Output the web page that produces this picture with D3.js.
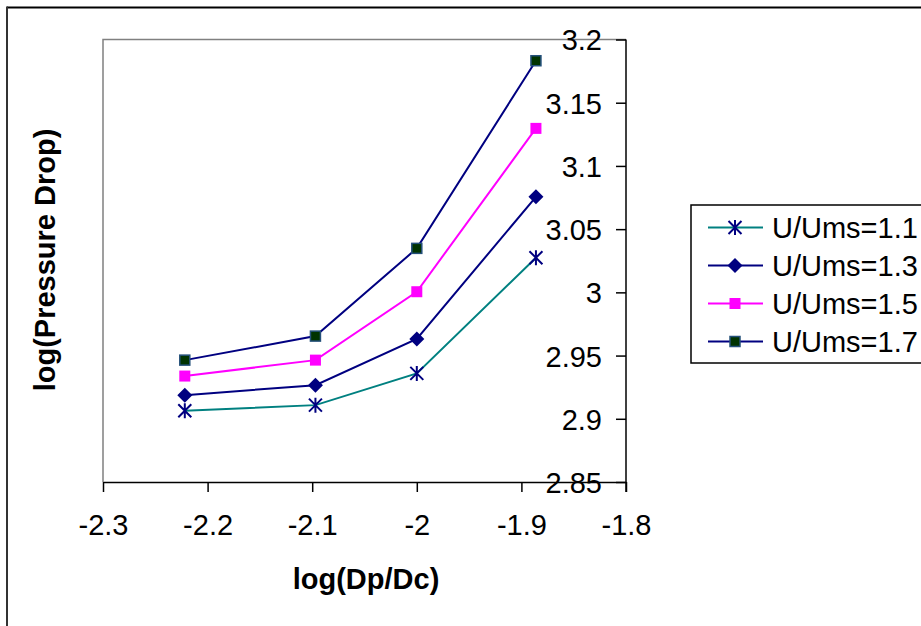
<!DOCTYPE html>
<html><head><meta charset="utf-8">
<script src="https://cdn.jsdelivr.net/npm/d3@7"></script>
<style>body{margin:0;background:#fff}svg{display:block}text{font-family:Arial,"Liberation Sans",sans-serif}</style>
</head><body>
<svg id="c" width="921" height="626"></svg>
<script>
const xValues = [-2.2218, -2.0969, -2.0, -1.8861];
const seriesNames = ["U/Ums=1.1", "U/Ums=1.3", "U/Ums=1.5", "U/Ums=1.7"];
const s11 = [2.9063, 2.9108, 2.9359, 3.0274];
const s13 = [2.9187, 2.9266, 2.9631, 3.0756];
const s15 = [2.9338, 2.9464, 3.0005, 3.1297];
const s17 = [2.9464, 2.9654, 3.0348, 3.1832];
const xTicks = [-2.3, -2.2, -2.1, -2.0, -1.9, -1.8];
const yTicks = [2.85, 2.9, 2.95, 3.0, 3.05, 3.1, 3.15, 3.2];

const series = [
  {name: seriesNames[0], values: s11, line: "#008080", marker: "star"},
  {name: seriesNames[1], values: s13, line: "#000080", marker: "diamond"},
  {name: seriesNames[2], values: s15, line: "#FF00FF", marker: "square"},
  {name: seriesNames[3], values: s17, line: "#000080", marker: "dsquare"}
];

const svg = d3.select("#c");
const L = 103, R = 626, T = 39.5, B = 482;
const x = d3.scaleLinear().domain([-2.3, -1.8]).range([L, R]);
const y = d3.scaleLinear().domain([2.85, 3.2]).range([B, T]);
const FS = 29;

// outer chart border
svg.append("line").attr("x1",7).attr("x2",921).attr("y1",7.5).attr("y2",7.5).attr("stroke","#000").attr("stroke-width",2);
svg.append("line").attr("x1",7).attr("x2",7).attr("y1",6.5).attr("y2",626).attr("stroke","#333").attr("stroke-width",2);

// plot area border (gray)
svg.append("path").attr("d",`M${L},${B}V${T}H${R}`).attr("fill","none").attr("stroke","#808080").attr("stroke-width",1.5);

// x axis
const xAxis = d3.axisBottom(x).tickValues(xTicks).tickSize(10).tickSizeOuter(0).tickFormat(d => String(+d.toFixed(1)));
const gx = svg.append("g").attr("transform",`translate(0,${B})`).call(xAxis);
gx.select(".domain").attr("stroke","#000").attr("stroke-width",1.5);
gx.selectAll(".tick line").attr("stroke","#000").attr("stroke-width",1.5);
gx.selectAll(".tick text").attr("font-size",FS).attr("fill","#000").attr("dy",null).attr("y",53).attr("font-family","Arial, 'Liberation Sans', sans-serif");

// y axis at right side, ticks pointing left
const yAxis = d3.axisLeft(y).tickValues(yTicks).tickSize(10).tickSizeOuter(0).tickFormat(d => String(+d.toFixed(2)));
const gy = svg.append("g").attr("transform",`translate(${R},0)`).call(yAxis);
gy.select(".domain").attr("stroke","#000").attr("stroke-width",1.5).attr("d",`M0,${T}V${B+10}`);
gy.selectAll(".tick line").attr("stroke","#000").attr("stroke-width",1.5);
gy.selectAll(".tick text").attr("font-size",FS).attr("fill","#000").attr("x",-24).attr("dy","0.36em").attr("font-family","Arial, 'Liberation Sans', sans-serif");

// axis titles
svg.append("text").attr("x",366).attr("y",589).attr("text-anchor","middle").attr("font-size",FS).attr("font-weight","bold").text("log(Dp/Dc)");
svg.append("text").attr("transform","translate(55,260) rotate(-90)").attr("text-anchor","middle").attr("font-size",FS).attr("font-weight","bold").text("log(Pressure Drop)");

function drawMarker(g, type, cx, cy) {
  if (type === "star") {
    const s = 6.5;
    const p = `M${cx-s},${cy-s}L${cx+s},${cy+s}M${cx-s},${cy+s}L${cx+s},${cy-s}M${cx},${cy-s-1}V${cy+s+1}`;
    g.append("path").attr("d",p).attr("stroke","#000080").attr("stroke-width",2).attr("fill","none");
  } else if (type === "diamond") {
    const s = 7.5;
    g.append("path").attr("d",`M${cx},${cy-s}L${cx+s},${cy}L${cx},${cy+s}L${cx-s},${cy}Z`).attr("fill","#000080");
  } else if (type === "square") {
    g.append("rect").attr("x",cx-5.5).attr("y",cy-5.5).attr("width",11).attr("height",11).attr("fill","#FF00FF");
  } else {
    g.append("rect").attr("x",cx-5).attr("y",cy-5).attr("width",10).attr("height",10).attr("fill","#003300").attr("stroke","#24507A").attr("stroke-width",1.5);
  }
}

const line = d3.line().x((d,i) => x(xValues[i])).y(d => y(d));
series.forEach(s => {
  svg.append("path").attr("d", line(s.values)).attr("fill","none").attr("stroke", s.line).attr("stroke-width",2);
});
series.forEach(s => {
  const g = svg.append("g");
  s.values.forEach((v,i) => drawMarker(g, s.marker, x(xValues[i]), y(v)));
});

// legend
svg.append("rect").attr("x",691).attr("y",205).attr("width",240).attr("height",158).attr("fill","#fff").attr("stroke","#000").attr("stroke-width",1.5);
const rowY = [227.5, 265.5, 303.5, 341.5];
series.forEach((s,i) => {
  const g = svg.append("g");
  g.append("line").attr("x1",708).attr("x2",763).attr("y1",rowY[i]).attr("y2",rowY[i]).attr("stroke",s.line).attr("stroke-width",2);
  drawMarker(g, s.marker, 735, rowY[i]);
  g.append("text").attr("x",772).attr("y",rowY[i]).attr("dy","0.36em").attr("font-size",FS).attr("fill","#000").text(s.name);
});
</script>
</body></html>
